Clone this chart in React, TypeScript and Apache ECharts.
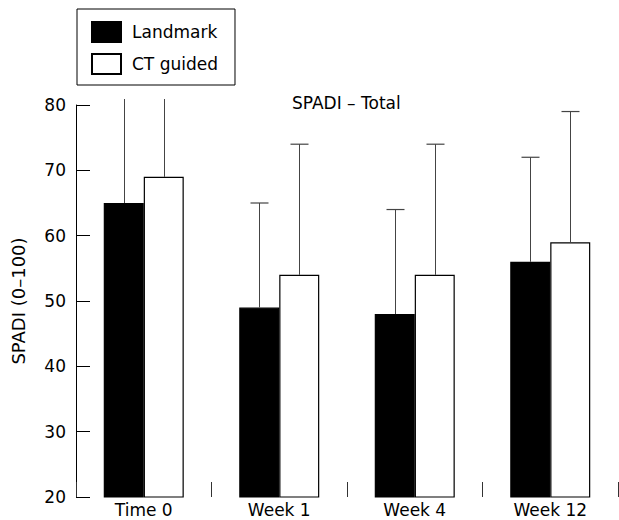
import React, { useEffect, useRef } from "react";
import * as echarts from "echarts";

const categories = ["Time 0", "Week 1", "Week 4", "Week 12"];
const landmark = [65, 49, 48, 56];
const ctGuided = [69, 54, 54, 59];
// upper end of the error bars (mean + SD); Time 0 values run past the axis top
const landmarkUpper = [88, 65, 64, 72];
const ctUpper = [90, 74, 74, 79];
const yTicks = [20, 30, 40, 50, 60, 70, 80];

const FONT = "DejaVu Sans";
const BAR_W = 40;

function errorRender(values: number[], uppers: number[], offset: number) {
  return (params: any, api: any) => {
    const i = api.value(0);
    const base = api.coord([i, values[i]]);
    const top = api.coord([i, uppers[i]]);
    const axisTop = api.coord([i, yTicks[yTicks.length - 1]])[1];
    const x = Math.round(base[0] + offset) + 0.5;
    const limit = axisTop - 6;
    const clipped = top[1] < limit;
    const y2 = clipped ? limit : top[1];
    const children: any[] = [
      {
        type: "line",
        shape: { x1: x, y1: base[1], x2: x, y2 },
        style: { stroke: "#444", lineWidth: 1 },
      },
    ];
    if (!clipped) {
      children.push({
        type: "line",
        shape: { x1: x - 9, y1: y2, x2: x + 9, y2 },
        style: { stroke: "#444", lineWidth: 1.2 },
      });
    }
    return { type: "group", children };
  };
}

export default function App() {
  const ref = useRef<HTMLDivElement>(null);
  useEffect(() => {
    if (!ref.current) return;
    const chart = echarts.init(ref.current, null, { renderer: "svg" });
    chart.setOption({
      animation: false,
      backgroundColor: "#fff",
      textStyle: { fontFamily: FONT },
      title: {
        text: "SPADI – Total",
        left: 292,
        top: 94,
        padding: 0,
        textStyle: { fontFamily: FONT, fontSize: 17, fontWeight: "normal", color: "#000" },
      },
      legend: {
        orient: "vertical",
        left: 77,
        top: 9,
        padding: [12, 17, 10, 14],
        borderColor: "#000",
        borderWidth: 1,
        itemWidth: 29,
        itemHeight: 20,
        itemGap: 10,
        icon: "rect",
        textStyle: { fontFamily: FONT, fontSize: 17, color: "#000", padding: [0, 0, 0, 6] },
        data: ["Landmark", "CT guided"],
      },
      grid: { left: 76, right: 1, top: 105, bottom: 23 },
      xAxis: {
        type: "category",
        data: categories,
        boundaryGap: true,
        axisLine: { show: false },
        axisTick: { show: true, inside: true, length: 15, lineStyle: { color: "#333", width: 1 } },
        axisLabel: { fontFamily: FONT, fontSize: 17, color: "#000", margin: 4 },
        splitLine: { show: false },
      },
      yAxis: {
        type: "value",
        min: yTicks[0],
        max: yTicks[yTicks.length - 1],
        interval: 10,
        name: "SPADI (0–100)",
        nameLocation: "middle",
        nameGap: 49,
        nameTextStyle: { fontFamily: FONT, fontSize: 18, color: "#000" },
        axisLine: { show: true, lineStyle: { color: "#000", width: 1 } },
        axisTick: { show: true, inside: true, length: 14, lineStyle: { color: "#000", width: 1 } },
        axisLabel: { fontFamily: FONT, fontSize: 17, color: "#000", margin: 10 },
        splitLine: { show: false },
      },
      series: [
        {
          name: "Landmark",
          type: "bar",
          data: landmark,
          barWidth: BAR_W,
          barGap: "0%",
          itemStyle: { color: "#000", borderColor: "#000", borderWidth: 1.2 },
        },
        {
          name: "CT guided",
          type: "bar",
          data: ctGuided,
          barWidth: BAR_W,
          barGap: "0%",
          itemStyle: { color: "#fff", borderColor: "#000", borderWidth: 1.2 },
        },
        {
          type: "custom",
          data: categories.map((_, i) => [i]),
          renderItem: errorRender(landmark, landmarkUpper, -BAR_W / 2),
          clip: false,
          z: 5,
          silent: true,
        },
        {
          type: "custom",
          data: categories.map((_, i) => [i]),
          renderItem: errorRender(ctGuided, ctUpper, BAR_W / 2),
          clip: false,
          z: 5,
          silent: true,
        },
      ],
    });
    return () => chart.dispose();
  }, []);
  return (
    <div
      ref={ref}
      style={{ position: "absolute", left: 0, top: 0, width: 619, height: 520, background: "#fff" }}
    />
  );
}
